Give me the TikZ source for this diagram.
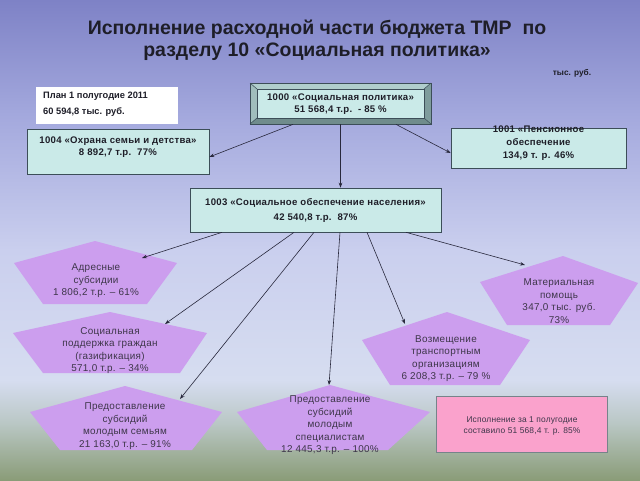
\documentclass[tikz,border=0pt]{standalone}
\usepackage{fontspec}
\setmainfont{Liberation Sans}
\usetikzlibrary{arrows.meta,calc}
\definecolor{bg0}{RGB}{126,130,198}
\definecolor{bg1}{RGB}{165,170,222}
\definecolor{bg2}{RGB}{202,207,238}
\definecolor{bg3}{RGB}{214,221,240}
\definecolor{bg4}{RGB}{184,198,194}
\definecolor{bg5}{RGB}{138,156,120}
\definecolor{tealface}{RGB}{202,234,232}
\definecolor{bevtop}{RGB}{176,206,204}
\definecolor{bevleft}{RGB}{160,190,188}
\definecolor{bevbot}{RGB}{112,140,140}
\definecolor{bevright}{RGB}{126,156,156}
\definecolor{boxline}{RGB}{60,78,88}
\definecolor{penta}{RGB}{204,158,238}
\definecolor{pinkbox}{RGB}{250,162,204}
\definecolor{txt}{RGB}{30,30,40}
\definecolor{ptxt}{RGB}{62,54,74}
\definecolor{arrc}{RGB}{40,40,60}
\tikzset{
  tealbox/.style={draw=boxline, line width=0.6pt, fill=tealface},
  boxtxt/.style={align=center, text=txt, font=\bfseries\fontsize{9.6}{12}\selectfont\addfontfeatures{LetterSpace=3}, inner sep=0pt},
  ptext/.style={align=center, text=ptxt, font=\fontsize{9.9}{12.5}\selectfont\addfontfeatures{LetterSpace=3}, inner sep=0pt},
  arr/.style={draw=arrc, line width=0.6pt, -{Stealth[length=5pt,width=3.6pt]}}
}
\begin{document}
\begin{tikzpicture}[x=1pt,y=-1pt]
\useasboundingbox (0,0) rectangle (640,480);
% background
\shade[top color=bg0, bottom color=bg1] (0,0) rectangle (640,120.5);
\shade[top color=bg1, bottom color=bg2] (0,120) rectangle (640,250.5);
\shade[top color=bg2, bottom color=bg3] (0,250) rectangle (640,380.5);
\shade[top color=bg3, bottom color=bg4] (0,380) rectangle (640,425.5);
\shade[top color=bg4, bottom color=bg5] (0,425) rectangle (640,480);

% title
\node[font=\bfseries\fontsize{19.5}{22}\selectfont, text=txt, align=center] (title) at (317,40)
  {Исполнение расходной части бюджета ТМР\ \ по\\разделу 10 «Социальная политика»};
\node[font=\bfseries\fontsize{8.3}{10}\selectfont, text=txt] (unit) at (572,73) {тыс. руб.};

% plan box
\node[fill=white, minimum width=142pt, minimum height=37pt, inner sep=0pt] (plan) at (107,105.5) {};
\node[anchor=west, font=\bfseries\fontsize{9.3}{16}\selectfont, text=txt, align=left, inner sep=0pt] (plantxt) at (43,104.5)
  {План 1 полугодие 2011\\60 594,8 тыс. руб.};

% 1000 bevel box
\fill[bevtop] (250,83) -- (431,83) -- (424,89) -- (257,89) -- cycle;
\fill[bevleft] (250,83) -- (257,89) -- (257,118) -- (250,124) -- cycle;
\fill[bevbot] (250,124) -- (431,124) -- (424,118) -- (257,118) -- cycle;
\fill[bevright] (431,83) -- (431,124) -- (424,118) -- (424,89) -- cycle;
\fill[tealface] (257,89) rectangle (424,118);
\draw[boxline, line width=0.5pt] (257,89) rectangle (424,118);
\draw[boxline, line width=0.5pt] (250,83) -- (257,89) (431,83) -- (424,89) (250,124) -- (257,118) (431,124) -- (424,118);
\node[draw=boxline, line width=0.7pt, minimum width=181pt, minimum height=41pt, inner sep=0pt] (n1000) at (340.5,103.5) {};
\node[boxtxt] (t1000) at (340.5,104) {1000 «Социальная политика»\\51 568,4 т.р.\ \ - 85 \%};

% 1004, 1001, 1003
\node[tealbox, minimum width=182pt, minimum height=45pt, inner sep=0pt] (n1004) at (118,151.5) {};
\node[boxtxt] (t1004) at (118,147) {1004 «Охрана семьи и детства»\\8 892,7 т.р.\ \ 77\%};
\node[tealbox, minimum width=175pt, minimum height=40pt, inner sep=0pt] (n1001) at (538.5,148) {};
\node[boxtxt, font=\bfseries\fontsize{9.6}{13}\selectfont\addfontfeatures{LetterSpace=3}] (t1001) at (538.5,143) {1001 «Пенсионное\\обеспечение\\134,9 т. р. 46\%};
\node[tealbox, minimum width=251pt, minimum height=44pt, inner sep=0pt] (n1003) at (315.5,210) {};
\node[boxtxt, font=\bfseries\fontsize{9.6}{15}\selectfont\addfontfeatures{LetterSpace=3}] (t1003) at (315.5,210.5) {1003 «Социальное обеспечение населения»\\42 540,8 т.р.\ \ 87\%};

% pentagons
\fill[penta] (95,241) -- (177,263) -- (147,304) -- (43,304) -- (14,263) -- cycle;
\fill[penta] (110,312) -- (207,333) -- (180,373) -- (43,373) -- (13,333) -- cycle;
\fill[penta] (125,386) -- (222,412) -- (192,450) -- (60,450) -- (30,412) -- cycle;
\fill[penta] (330,385) -- (430,412) -- (388,450) -- (267,450) -- (237,412) -- cycle;
\fill[penta] (447,312) -- (530,340) -- (500,385) -- (390,385) -- (362,340) -- cycle;
\fill[penta] (563,256) -- (638,283) -- (610,325) -- (507,325) -- (480,282) -- cycle;

\node[ptext] (p1) at (96,281) {Адресные\\субсидии\\1 806,2 т.р. – 61\%};
\node[ptext] (p2) at (110,350.5) {Социальная\\поддержка граждан\\(газификация)\\571,0 т.р. – 34\%};
\node[ptext] (p3) at (125,426) {Предоставление\\субсидий\\молодым семьям\\21 163,0 т.р. – 91\%};
\node[ptext] (p4) at (330,425.5) {Предоставление\\субсидий\\молодым\\специалистам\\12 445,3 т.р. – 100\%};
\node[ptext] (p5) at (446,358.5) {Возмещение\\транспортным\\организациям\\6 208,3 т.р. – 79 \%};
\node[ptext] (p6) at (559,301) {Материальная\\помощь\\347,0 тыс. руб.\\73\%};

% pink box
\node[draw=boxline!70, line width=0.6pt, fill=pinkbox, minimum width=171pt, minimum height=56pt, inner sep=0pt] (pink) at (521.5,424) {};
\node[align=center, text=ptxt, font=\fontsize{8.4}{11}\selectfont\addfontfeatures{LetterSpace=2}, inner sep=0pt] (pinktxt) at (522,425.5)
  {Исполнение за 1 полугодие\\составило 51 568,4 т. р. 85\%};

% arrow tips
\coordinate (e1) at (142,258);
\coordinate (e2) at (165,324);
\coordinate (e3) at (180,399);
\coordinate (e4) at (329,385);
\coordinate (e5) at (405,324);
\coordinate (e6) at (525,265);

% connectors
\draw[arr] ([xshift=-47.5pt]n1000.south) -- ([yshift=-5.5pt]n1004.east);
\draw[arr] ([xshift=55.5pt]n1000.south) -- ([yshift=-5pt]n1001.west);
\draw[arr] (n1000.south) -- (n1000.south |- n1003.north);
\draw[arr] ([xshift=-93.5pt]n1003.south) -- (e1);
\draw[arr] ([xshift=-21.5pt]n1003.south) -- (e2);
\draw[arr] ([xshift=-1.5pt]n1003.south) -- (e3);
\draw[arr] ([xshift=24.5pt]n1003.south) -- (e4);
\draw[arr] ([xshift=51.5pt]n1003.south) -- (e5);
\draw[arr] ([xshift=90.5pt]n1003.south) -- (e6);
\end{tikzpicture}
\end{document}
